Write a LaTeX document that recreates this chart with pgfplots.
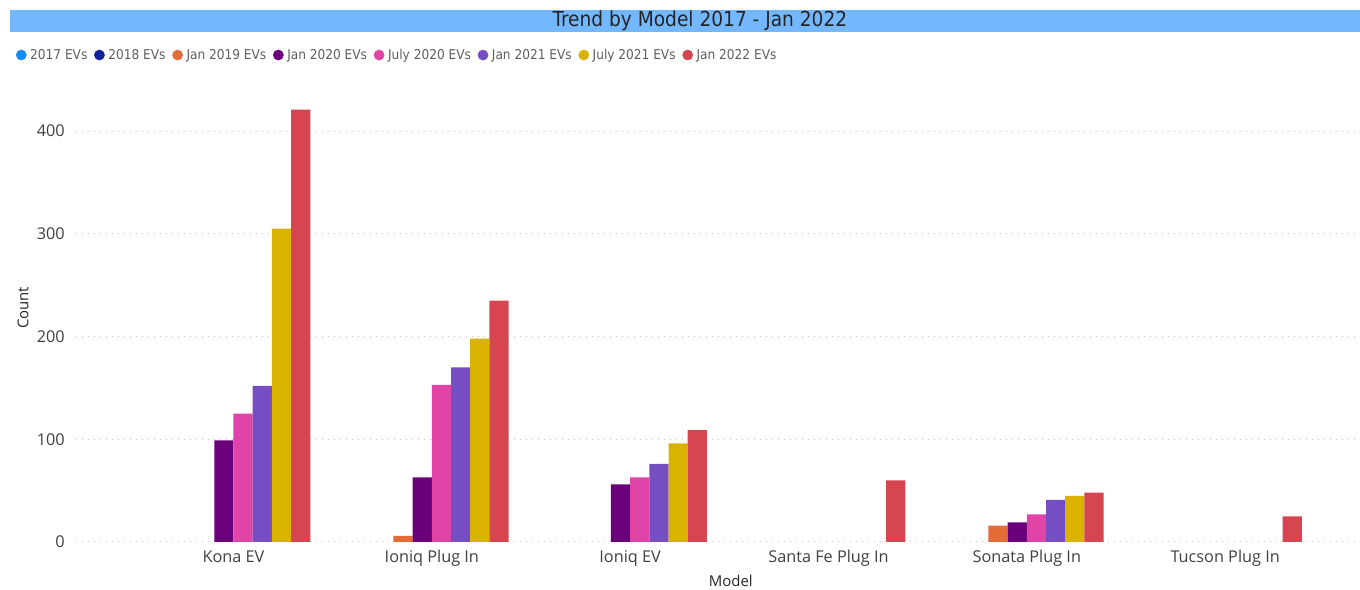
\documentclass[border=0pt]{standalone}
\usepackage{fontspec}
\setmainfont{Open Sans}
\newfontfamily\dinfont{DejaVu Sans Condensed}
\usepackage{pgfplots}
\pgfplotsset{compat=1.18}
\definecolor{c2017}{HTML}{118DFF}
\definecolor{c2018}{HTML}{12239E}
\definecolor{cja19}{HTML}{E66C37}
\definecolor{cja20}{HTML}{6B007B}
\definecolor{cjy20}{HTML}{E044A7}
\definecolor{cja21}{HTML}{744EC2}
\definecolor{cjy21}{HTML}{D9B300}
\definecolor{cja22}{HTML}{D64550}
\definecolor{titlebg}{HTML}{73B8FF}
\definecolor{titletxt}{HTML}{252423}
\definecolor{legtxt}{HTML}{605E5C}
\definecolor{ticktxt}{HTML}{404040}
\definecolor{gridc}{HTML}{C8C6C4}
\begin{document}
\begin{tikzpicture}
\useasboundingbox (0,0) rectangle (1020pt,441.75pt);
\fill[titlebg] (7.5pt,417.75pt) rectangle (1020pt,434.25pt);
\node[font=\dinfont\fontsize{15.5pt}{17pt}\selectfont, text=titletxt, inner sep=0pt] at (525pt,426pt) {Trend by Model 2017 - Jan 2022};
\begin{axis}[
  at={(57pt,35.25pt)}, anchor=south west,
  scale only axis, width=963pt, height=339pt,
  xmin=-0.794, xmax=5.68, ymin=0, ymax=440,
  axis line style={draw=none},
  major tick length=0pt,
  xtick={0,...,5},
  xticklabels={Kona EV, Ioniq Plug In, Ioniq EV, Santa Fe Plug In, Sonata Plug In, Tucson Plug In},
  ytick={0,100,200,300,400},
  ymajorgrids,
  major grid style={gridc, line width=0.75pt, dash pattern=on 0.75pt off 3.75pt},
  /pgf/number format/assume math mode=true,
  tick label style={font=\fontsize{12.2pt}{14pt}\selectfont, text=ticktxt, inner sep=0pt},
  xticklabel style={anchor=base, yshift=-15.75pt},
  yticklabel style={anchor=east, xshift=-8.25pt},
  xlabel={Model}, ylabel={Count},
  label style={font=\fontsize{11.2pt}{13pt}\selectfont, text=titletxt},
  xlabel style={at={(axis description cs:0.510,-0.0863)}, anchor=center},
  ylabel style={at={(axis description cs:-0.0413,0.518)}, anchor=center},
  legend columns=8,
  legend style={at={(axis description cs:-0.04696,1.0774)}, anchor=west, draw=none, fill=none, inner sep=0pt,
    font=\dinfont\fontsize{10.15pt}{12pt}\selectfont, text=legtxt,
    nodes={inner sep=0pt},
    /tikz/every odd column/.style={column sep=2.7pt},
    /tikz/every even column/.style={column sep=5pt}},
]
\addlegendimage{legend image code/.code={\fill[c2017] (3.8pt,0pt) circle (3.8pt);}}
\addlegendimage{legend image code/.code={\fill[c2018] (3.8pt,0pt) circle (3.8pt);}}
\addlegendimage{legend image code/.code={\fill[cja19] (3.8pt,0pt) circle (3.8pt);}}
\addlegendimage{legend image code/.code={\fill[cja20] (3.8pt,0pt) circle (3.8pt);}}
\addlegendimage{legend image code/.code={\fill[cjy20] (3.8pt,0pt) circle (3.8pt);}}
\addlegendimage{legend image code/.code={\fill[cja21] (3.8pt,0pt) circle (3.8pt);}}
\addlegendimage{legend image code/.code={\fill[cjy21] (3.8pt,0pt) circle (3.8pt);}}
\addlegendimage{legend image code/.code={\fill[cja22] (3.8pt,0pt) circle (3.8pt);}}
\legend{2017 EVs, 2018 EVs, Jan 2019 EVs, Jan 2020 EVs, July 2020 EVs, Jan 2021 EVs, July 2021 EVs, Jan 2022 EVs}
% Jan 2019 EVs
\addplot[ybar, bar width=14.4pt, bar shift=-21.6pt, fill=cja19, draw=none, forget plot] coordinates {(1,6) (4,16)};
% Jan 2020 EVs
\addplot[ybar, bar width=14.4pt, bar shift=-7.2pt, fill=cja20, draw=none, forget plot] coordinates {(0,99) (1,63) (2,56) (4,19)};
% July 2020 EVs
\addplot[ybar, bar width=14.4pt, bar shift=7.2pt, fill=cjy20, draw=none, forget plot] coordinates {(0,125) (1,153) (2,63) (4,27)};
% Jan 2021 EVs
\addplot[ybar, bar width=14.4pt, bar shift=21.6pt, fill=cja21, draw=none, forget plot] coordinates {(0,152) (1,170) (2,76) (4,41)};
% July 2021 EVs
\addplot[ybar, bar width=14.4pt, bar shift=36pt, fill=cjy21, draw=none, forget plot] coordinates {(0,305) (1,198) (2,96) (4,45)};
% Jan 2022 EVs
\addplot[ybar, bar width=14.4pt, bar shift=50.4pt, fill=cja22, draw=none, forget plot] coordinates {(0,421) (1,235) (2,109) (3,60) (4,48) (5,25)};
\end{axis}
\end{tikzpicture}
\end{document}
